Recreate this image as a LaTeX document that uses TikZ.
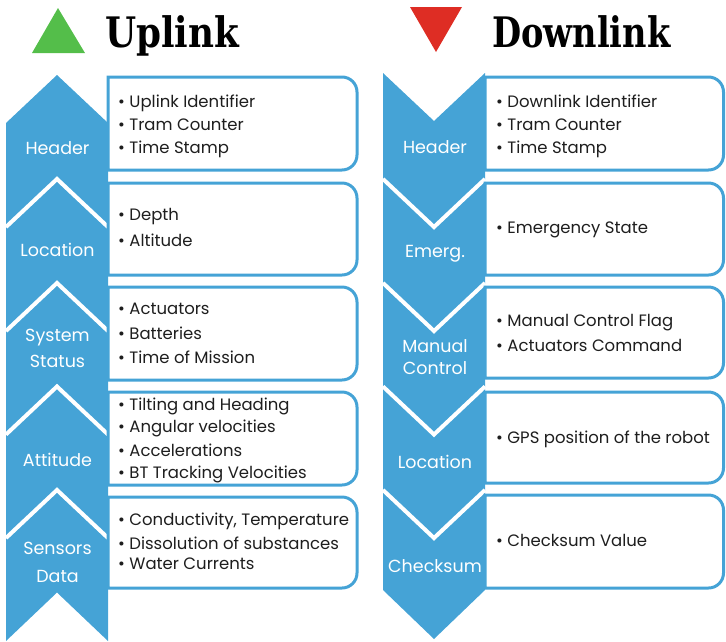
\documentclass[tikz,border=0pt]{standalone}
\usepackage{fontspec}
\setmainfont{Poppins}
\newfontfamily\titlefont{DejaVu Serif}
\definecolor{cblue}{RGB}{69,163,214}
\definecolor{cgreen}{RGB}{84,190,74}
\definecolor{cred}{RGB}{222,45,36}
\definecolor{ctext}{RGB}{30,30,30}
\begin{document}
\begin{tikzpicture}[x=1pt,y=-1pt,
  item/.style={anchor=base west, inner sep=0pt, text=ctext, font=\fontsize{16.5}{19}\selectfont},
  lab/.style={anchor=base, inner sep=0pt, text=white, font=\fontsize{17.5}{20}\selectfont},
  boxline/.style={draw=cblue, line width=3pt, fill=white},
  gap/.style={draw=white, line width=4pt},
  chev/.style={fill=cblue},
  ttl/.style={anchor=base west, inner sep=0pt, text=black, font=\titlefont\bfseries\fontsize{42}{46}\selectfont}]
\useasboundingbox (0,0) rectangle (726,641);
% ---------- titles
\fill[cgreen] (32,53) -- (58,8) -- (85,53) -- cycle;
\fill[cred] (410,7) -- (462,7) -- (436,52) -- cycle;
\node[ttl] (tup) at (105,47) {\scalebox{0.85}[1]{Uplink}};
\node[ttl] (tdown) at (492,47) {\scalebox{0.8}[1]{Downlink}};
% ---------- uplink chevrons
\fill[chev] (6,123) -- (57,75) -- (108,123) -- (108,641) -- (57,592.5) -- (6,641) -- cycle;
\foreach \a in {179,283,386.5,490}{
  \draw[gap] (6,\a+48) -- (57,\a) -- (108,\a+48);
}
% ---------- downlink chevrons
\fill[chev] (383,73) -- (434,121) -- (485,73) -- (485,590) -- (434,639) -- (383,590) -- cycle;
\foreach \t in {179,283,386.5,490}{
  \draw[gap] (383,\t) -- (434,\t+48) -- (485,\t);
}
% ---------- boxes
\foreach \x/\xx/\t/\b in {108/357/77/170, 108/357/183/275, 108/357/287/380, 108/357/392/485, 108/357/497/588,
  485/723.5/77/170, 485/723.5/183/275, 485/723.5/287/378, 485/723.5/392/483, 485/723.5/495/588}{
  \draw[boxline] (\x,\t) -- (\xx-15,\t) arc[start angle=-90,end angle=0,radius=15]
    -- (\xx,\b-15) arc[start angle=0,end angle=90,radius=15] -- (\x,\b) -- cycle;
}
% ---------- uplink labels
\node[lab] (uh) at (57.5,154) {Header};
\node[lab] (ul) at (57.5,256) {Location};
\node[lab] (us1) at (57.5,341) {System};
\node[lab] (us2) at (57.5,367) {Status};
\node[lab] (ua) at (57.5,466) {Attitude};
\node[lab] (ud1) at (57.5,554) {Sensors};
\node[lab] (ud2) at (57.5,582) {Data};
% ---------- downlink labels
\node[lab] (dh) at (435,153) {Header};
\node[lab] (de) at (435,257) {Emerg.};
\node[lab] (dm1) at (435,352) {Manual};
\node[lab] (dm2) at (435,374) {Control};
\node[lab] (dl) at (435,468) {Location};
\node[lab] (dc) at (435,572) {Checksum};
% ---------- uplink items
\node[item] (u1a) at (118,107) {• Uplink Identifier};
\node[item] (u1b) at (118,130) {• Tram Counter};
\node[item] (u1c) at (118,153) {• Time Stamp};
\node[item] (u2a) at (118,220) {• Depth};
\node[item] (u2b) at (118,246) {• Altitude};
\node[item] (u3a) at (118,314) {• Actuators};
\node[item] (u3b) at (118,339) {• Batteries};
\node[item] (u3c) at (118,363) {• Time of Mission};
\node[item] (u4a) at (118,410) {• Tilting and Heading};
\node[item] (u4b) at (118,432) {• Angular velocities};
\node[item] (u4c) at (118,456) {• Accelerations};
\node[item] (u4d) at (118,478) {• BT Tracking Velocities};
\node[item] (u5a) at (118,525) {• Conductivity, Temperature};
\node[item] (u5b) at (118,549) {• Dissolution of substances};
\node[item] (u5c) at (118,569) {• Water Currents};
% ---------- downlink items
\node[item] (d1a) at (496,107) {• Downlink Identifier};
\node[item] (d1b) at (496,130) {• Tram Counter};
\node[item] (d1c) at (496,153) {• Time Stamp};
\node[item] (d2a) at (496,233) {• Emergency State};
\node[item] (d3a) at (496,326) {• Manual Control Flag};
\node[item] (d3b) at (496,351) {• Actuators Command};
\node[item] (d4a) at (496,443) {• GPS position of the robot};
\node[item] (d5a) at (496,546) {• Checksum Value};
\end{tikzpicture}
\end{document}
